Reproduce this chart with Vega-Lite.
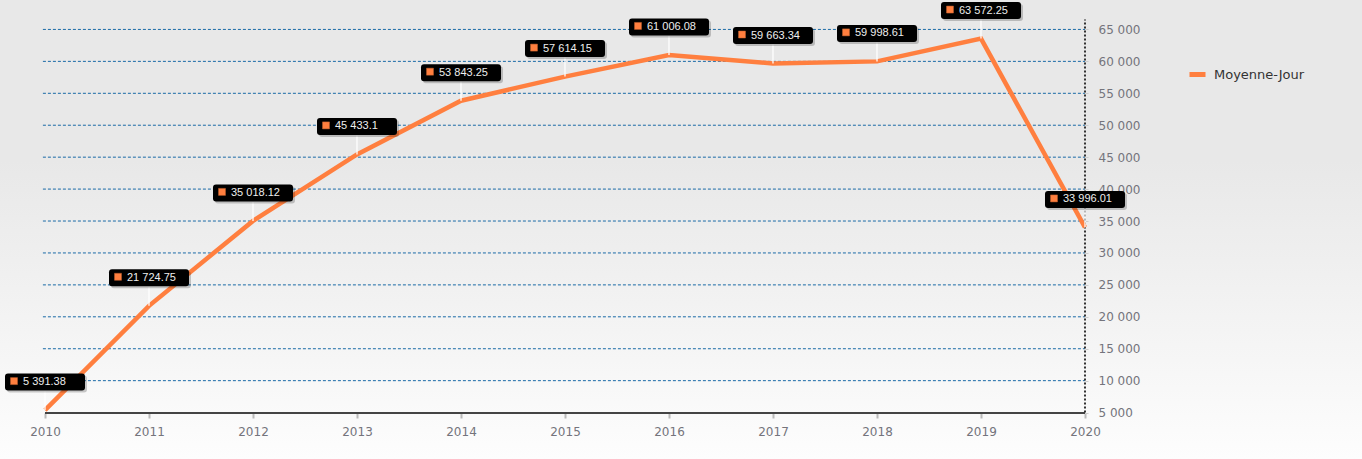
{
  "$schema": "https://vega.github.io/schema/vega-lite/v6.json",
  "width": 1362,
  "height": 459,
  "autosize": {"type": "none"},
  "padding": 0,
  "background": "#e8e8e8",
  "config": {
    "locale": {"number": {"decimal": ".", "thousands": " ", "grouping": [3], "currency": ["", ""]}},
    "axis": {"labelOverlap": false, "labelBound": false, "labelFlush": false, "domain": false, "grid": false, "title": null,
      "labelFont": "DejaVu Sans", "labelFontSize": 12, "labelColor": "#74747c"},
    "view": {
      "stroke": null,
      "fill": {"gradient": "linear", "x1": 0, "y1": 0, "x2": 0, "y2": 1,
        "stops": [{"offset": 0, "color": "#e8e8e8"}, {"offset": 0.35, "color": "#e8e8e8"}, {"offset": 1, "color": "#fdfdfd"}]}
    }
  },
  "datasets": {
    "main": [
      {"year": 2010, "value": 5391.38},
      {"year": 2011, "value": 21724.75},
      {"year": 2012, "value": 35018.12},
      {"year": 2013, "value": 45433.1},
      {"year": 2014, "value": 53843.25},
      {"year": 2015, "value": 57614.15},
      {"year": 2016, "value": 61006.08},
      {"year": 2017, "value": 59663.34},
      {"year": 2018, "value": 59998.61},
      {"year": 2019, "value": 63572.25},
      {"year": 2020, "value": 33996.01}
    ],
    "grid": [
      {"v": 10000}, {"v": 15000}, {"v": 20000}, {"v": 25000}, {"v": 30000}, {"v": 35000},
      {"v": 40000}, {"v": 45000}, {"v": 50000}, {"v": 55000}, {"v": 60000}, {"v": 65000}
    ],
    "one": [{"k": 1}]
  },
  "layer": [
    {
      "data": {"name": "grid"},
      "mark": {"type": "rule", "stroke": "#1a6aa6", "strokeWidth": 1, "strokeDash": [3, 2]},
      "encoding": {
        "y": {"field": "v", "type": "quantitative", "scale": {"domain": [-2265.6, 69609.4], "nice": false, "zero": false},
          "axis": {"orient": "right", "offset": -277, "values": [5000, 10000, 15000, 20000, 25000, 30000, 35000, 40000, 45000, 50000, 55000, 60000, 65000],
            "tickCount": 30, "format": ",d", "ticks": true, "tickSize": 3, "tickColor": "#cccccc", "labelPadding": 10, "labelOverlap": false}},
        "x": {"datum": 2009.98, "type": "quantitative", "scale": {"domain": [2009.5673, 2022.6635], "nice": false, "zero": false},
          "axis": {"orient": "bottom", "offset": -46, "values": [2010, 2011, 2012, 2013, 2014, 2015, 2016, 2017, 2018, 2019, 2020], "format": "d",
            "tickCount": 30, "tickSize": 5, "tickWidth": 2, "tickColor": "#bbbbbb", "labelPadding": 8, "labelOverlap": false}},
        "x2": {"datum": 2020}
      }
    },
    {
      "data": {"name": "one"},
      "mark": {"type": "rule", "stroke": "#444444", "strokeWidth": 2},
      "encoding": {
        "y": {"datum": 4920, "type": "quantitative"},
        "x": {"datum": 2010, "type": "quantitative"},
        "x2": {"datum": 2020}
      }
    },
    {
      "data": {"name": "one"},
      "mark": {"type": "rule", "stroke": "#333333", "strokeWidth": 2, "strokeDash": [2, 2]},
      "encoding": {
        "x": {"datum": 2020, "type": "quantitative"},
        "y": {"datum": 5000, "type": "quantitative"},
        "y2": {"datum": 66560}
      }
    },
    {
      "data": {"name": "main"},
      "mark": {"type": "line", "strokeWidth": 4.5},
      "encoding": {
        "x": {"field": "year", "type": "quantitative"},
        "y": {"field": "value", "type": "quantitative"},
        "color": {"datum": "Moyenne-Jour", "type": "nominal", "scale": {"range": ["#ff7f3f"]},
          "legend": {"orient": "none", "legendX": 1187, "legendY": 64, "title": null, "symbolType": "stroke", "symbolSize": 256,
            "symbolStrokeWidth": 5, "labelFont": "DejaVu Sans", "labelFontSize": 13, "labelColor": "#333333", "labelOffset": 6}}
      }
    },
    {
      "data": {"name": "main"},
      "mark": {"type": "point", "shape": "M0,0 L0,-1", "size": 1444, "filled": false, "stroke": "#ffffff", "strokeWidth": 1.5, "opacity": 0.85},
      "encoding": {
        "x": {"field": "year", "type": "quantitative"},
        "y": {"field": "value", "type": "quantitative"}
      }
    },
    {
      "data": {"name": "main"},
      "mark": {"type": "point", "shape": "M-0.925,-0.2125 L0.925,-0.2125 Q1,-0.2125 1,-0.1375 L1,0.1375 Q1,0.2125 0.925,0.2125 L-0.925,0.2125 Q-1,0.2125 -1,0.1375 L-1,-0.1375 Q-1,-0.2125 -0.925,-0.2125 Z",
        "size": 6400, "filled": true, "fill": "#000000", "opacity": 0.2, "strokeWidth": 0, "xOffset": 2, "yOffset": -26},
      "encoding": {
        "x": {"field": "year", "type": "quantitative"},
        "y": {"field": "value", "type": "quantitative"}
      }
    },
    {
      "data": {"name": "main"},
      "mark": {"type": "point", "shape": "M-0.925,-0.2125 L0.925,-0.2125 Q1,-0.2125 1,-0.1375 L1,0.1375 Q1,0.2125 0.925,0.2125 L-0.925,0.2125 Q-1,0.2125 -1,0.1375 L-1,-0.1375 Q-1,-0.2125 -0.925,-0.2125 Z",
        "size": 6400, "filled": true, "fill": "#000000", "opacity": 1, "strokeWidth": 0, "xOffset": 0, "yOffset": -28},
      "encoding": {
        "x": {"field": "year", "type": "quantitative"},
        "y": {"field": "value", "type": "quantitative"}
      }
    },
    {
      "data": {"name": "main"},
      "mark": {"type": "point", "shape": "square", "size": 49, "filled": true, "fill": "#ff7f3f", "opacity": 1, "stroke": "#c0602f", "strokeWidth": 0.5, "xOffset": -31, "yOffset": -29},
      "encoding": {
        "x": {"field": "year", "type": "quantitative"},
        "y": {"field": "value", "type": "quantitative"}
      }
    },
    {
      "data": {"name": "main"},
      "mark": {"type": "text", "align": "left", "baseline": "middle", "dx": -22, "dy": -28, "font": "Liberation Sans", "fontSize": 11, "fill": "#eeeeee"},
      "encoding": {
        "x": {"field": "year", "type": "quantitative"},
        "y": {"field": "value", "type": "quantitative"},
        "text": {"field": "value", "type": "quantitative", "format": ",.2~f"}
      }
    }
  ]
}
